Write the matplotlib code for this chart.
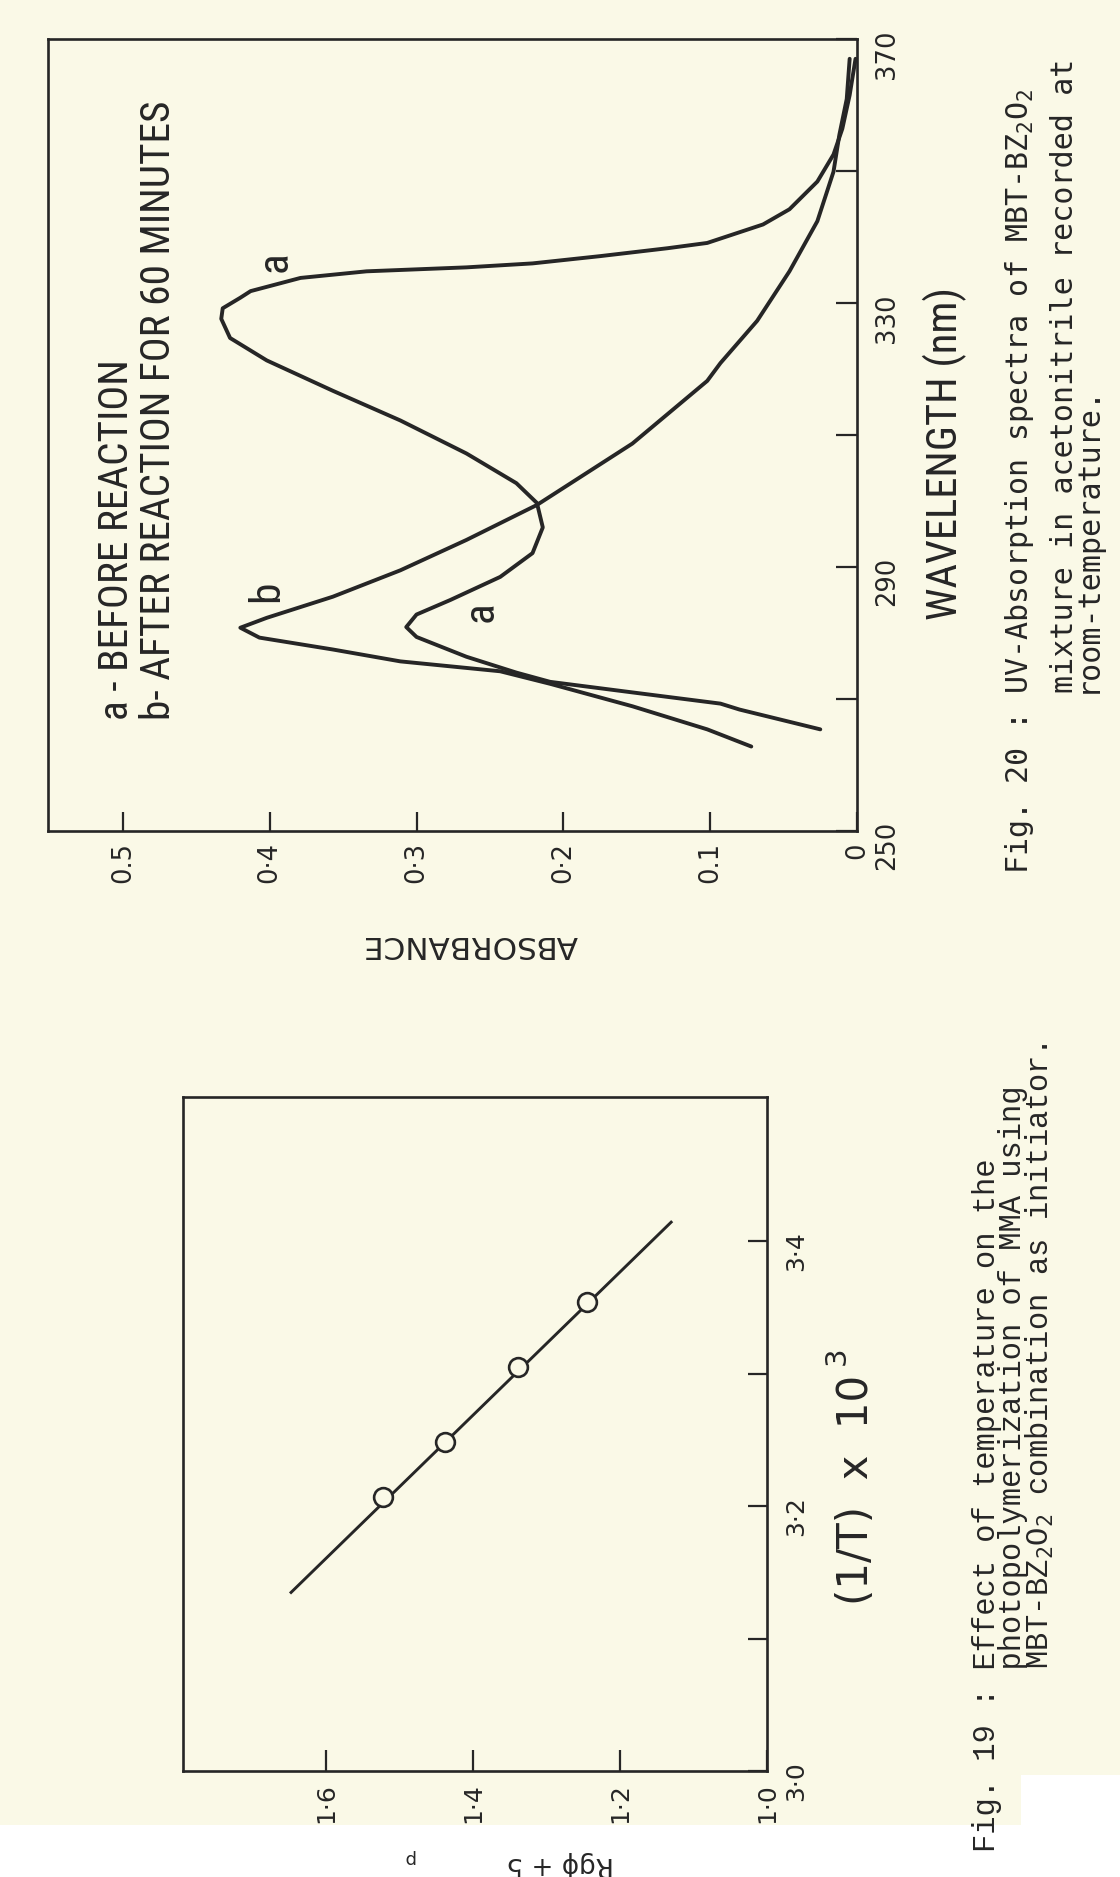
import matplotlib
matplotlib.use("Agg")
import matplotlib.pyplot as plt
from matplotlib.patches import Rectangle
from matplotlib import font_manager

# ---------------------------------------------------------------------------
# Fig. 20 -- UV absorption spectra of the MBT-BZ2O2 mixture
# ---------------------------------------------------------------------------
# curve a : before reaction
wl_a = [265.4, 268.4, 269.3, 271.0, 272.6, 274.0, 276.4, 279.4, 280.9, 282.8,
        285.0, 288.5, 292.1, 296.0, 299.7, 302.7, 307.2, 312.2, 316.7, 321.3,
        324.7, 327.6, 329.2, 330.8, 331.8, 333.8, 334.8, 335.4, 336.0, 337.1,
        338.3, 339.1, 341.9, 344.2, 348.4, 352.5, 356.4, 361.5, 367.0]
abs_a = [0.025, 0.080, 0.093, 0.153, 0.209, 0.232, 0.266, 0.300, 0.307, 0.300,
         0.277, 0.243, 0.221, 0.214, 0.218, 0.232, 0.266, 0.311, 0.357, 0.402,
         0.427, 0.433, 0.432, 0.420, 0.413, 0.379, 0.334, 0.266, 0.221, 0.175,
         0.129, 0.102, 0.064, 0.046, 0.027, 0.016, 0.010, 0.005, 0.001]

# curve b : after reaction for 60 minutes
wl_b = [262.8, 265.4, 268.9, 272.3, 274.2, 275.7, 277.5, 279.3, 280.8, 282.3,
        285.5, 289.5, 294.1, 299.4, 308.7, 318.2, 320.9, 327.3, 334.8, 342.4,
        349.9, 355.5, 360.9, 367.0]
abs_b = [0.072, 0.102, 0.153, 0.209, 0.243, 0.311, 0.357, 0.407, 0.420, 0.402,
         0.357, 0.311, 0.266, 0.218, 0.153, 0.102, 0.093, 0.068, 0.046, 0.027,
         0.016, 0.012, 0.007, 0.005]

abs_ticks = [0.0, 0.1, 0.2, 0.3, 0.4, 0.5]
abs_ticklabels = ["0", "0.1", "0·2", "0·3", "0·4", "0.5"]
wl_ticks = [250, 270, 290, 310, 330, 350, 370]
wl_ticklabels = ["250", "", "290", "", "330", "", "370"]

# ---------------------------------------------------------------------------
# Fig. 19 -- effect of temperature on the photopolymerization of MMA
# ---------------------------------------------------------------------------
log_rp = [1.522, 1.438, 1.339, 1.245]          # log Rp + 5
inv_t = [3.207, 3.248, 3.305, 3.354]           # (1/T) x 10^3
fit_log_rp = [1.649, 1.129]
fit_inv_t = [3.134, 3.415]

lrp_ticks = [1.0, 1.2, 1.4, 1.6]
lrp_ticklabels = ["1·0", "1·2", "1·4", "1·6"]
invt_ticks = [3.0, 3.1, 3.2, 3.3, 3.4]
invt_ticklabels = ["3·0", "", "3·2", "", "3·4"]

# ---------------------------------------------------------------------------
W, H, DPI = 1120, 1877, 100
PAPER = "#FAF9E7"
INK = "#262626"

fonts = font_manager.fontManager.ttflist


def has(name, stretch=None):
    return any(f.name == name and (stretch is None or f.stretch == stretch) for f in fonts)


# narrow lettering for the stencilled labels
if has("Liberation Sans Narrow"):
    LETTER = dict(family="Liberation Sans Narrow")
elif has("Roboto Condensed"):
    LETTER = dict(family="Roboto Condensed")
elif has("DejaVu Sans", "condensed"):
    LETTER = dict(family="DejaVu Sans", fontstretch="condensed")
elif has("Open Sans Condensed"):
    LETTER = dict(family="Open Sans Condensed")
else:
    LETTER = dict(family="DejaVu Sans")

SANS = dict(family="DejaVu Sans")
MONO_A = "DejaVu Sans Mono" if has("DejaVu Sans Mono") else "Liberation Mono"
MONO_B = "Liberation Mono" if has("Liberation Mono") else "DejaVu Sans Mono"
TYPE_A = dict(family=MONO_A, math_fontfamily="custom")
TYPE_B = dict(family=MONO_B, math_fontfamily="custom")

# subscripts in the captions are typed in the same monospaced face
plt.rcParams["mathtext.fontset"] = "custom"
plt.rcParams["mathtext.rm"] = MONO_A
plt.rcParams["mathtext.it"] = MONO_A
plt.rcParams["mathtext.bf"] = MONO_A

fig = plt.figure(figsize=(W / DPI, H / DPI), dpi=DPI, facecolor="white")
renderer = fig.canvas.get_renderer()

# paper sheet
fig.patches.append(Rectangle((0, 1 - 1825 / H), 1, 1825 / H, transform=fig.transFigure,
                             facecolor=PAPER, edgecolor="none", zorder=-10))
fig.patches.append(Rectangle((1021 / W, 0), 1 - 1021 / W, (H - 1775) / H,
                             transform=fig.transFigure, facecolor="white",
                             edgecolor="none", zorder=-9))


def frac_box(left, top, right, bottom):
    return [left / W, 1 - bottom / H, (right - left) / W, (bottom - top) / H]


def put(x, y, s, rot=90, ha="center", va="center", span=None, size=16, font=SANS, **kw):
    t = fig.text(x / W, 1 - y / H, s, rotation=rot, rotation_mode="anchor",
                 ha=ha, va=va, fontsize=size, color=INK, **font, **kw)
    if span:
        bb = t.get_window_extent(renderer)
        cur = bb.height if rot % 180 == 90 else bb.width
        t.set_fontsize(size * span / cur)
    return t


def style_axes(ax):
    ax.set_facecolor("none")
    for sp in ax.spines.values():
        sp.set_linewidth(1.9)
        sp.set_color(INK)


# ---------------- upper panel: spectra ----------------
ax1 = fig.add_axes(frac_box(48, 39, 857, 831))
style_axes(ax1)
line_kw = dict(color=INK, lw=2.8, solid_joinstyle="round", solid_capstyle="round")
ax1.plot(abs_a, wl_a, **line_kw)
ax1.plot(abs_b, wl_b, **line_kw)
ax1.set_xlim(0.551, 0.0)
ax1.set_ylim(250, 370)
ax1.set_xticks(abs_ticks)
ax1.set_xticklabels(abs_ticklabels, **SANS)
ax1.yaxis.tick_right()
ax1.set_yticks(wl_ticks)
ax1.set_yticklabels(wl_ticklabels, **SANS)
ax1.tick_params(axis="x", direction="in", length=14, width=1.6, pad=8,
                labelsize=18.5, labelrotation=90, colors=INK)
ax1.tick_params(axis="y", direction="in", length=15, width=1.6, pad=12,
                labelsize=18.5, labelrotation=90, colors=INK)

leg2 = put(158, 720, "b- AFTER REACTION FOR 60 MINUTES", ha="left", span=620, size=24,
           font=LETTER)
leg_size = leg2.get_fontsize()
put(116, 720, "a - BEFORE REACTION", ha="left", size=leg_size, font=LETTER)
put(275, 262, "a", size=leg_size * 1.05, font=LETTER)
put(267, 591, "b", size=leg_size * 1.05, font=LETTER)
put(481, 612, "a", size=leg_size * 1.05, font=LETTER)

put(945, 453, "WAVELENGTH (nm)", span=333, size=24, font=LETTER)
put(470, 945, "ABSORBANCE", rot=180, span=215, size=20, font=SANS)

# caption of Fig. 20 (hanging indent under "UV-Absorption")
put(1019, 874, r"Fig. 20 : UV-Absorption spectra of MBT-BZ$_2$O$_2$", ha="left",
    size=21.6, font=TYPE_A)
put(1076, 693, "mixture in acetonitrile recorded at\nroom-temperature.", ha="left",
    size=21.6, font=TYPE_A, linespacing=0.72, multialignment="left")

# ---------------- lower panel: rate vs 1/T ----------------
ax2 = fig.add_axes(frac_box(183, 1097, 767, 1771))
style_axes(ax2)
ax2.plot(fit_log_rp, fit_inv_t, color=INK, lw=2.1, solid_capstyle="butt")
ax2.plot(log_rp, inv_t, ls="none", marker="o", ms=13.5, mfc=PAPER, mec=INK, mew=1.9)
ax2.set_xlim(1.7946, 1.0)
ax2.set_ylim(3.0, 3.5087)
ax2.set_xticks(lrp_ticks)
ax2.set_xticklabels(lrp_ticklabels, **SANS)
ax2.yaxis.tick_right()
ax2.set_yticks(invt_ticks)
ax2.set_yticklabels(invt_ticklabels, **SANS)
ax2.tick_params(axis="x", direction="in", length=15, width=1.6, pad=9,
                labelsize=18, labelrotation=90, colors=INK)
ax2.tick_params(axis="y", direction="in", length=14, width=1.6, pad=12,
                labelsize=18, labelrotation=90, colors=INK)

put(856, 1490, "(1/T)  x  10", span=230, size=22, font=SANS)
put(837, 1356, "3", size=21, font=SANS)

# caption of Fig. 19
put(1014, 1852,
    "Fig. 19 : Effect of temperature on the\n"
    "          photopolymerization of MMA using\n"
    r"          MBT-BZ$_2$O$_2$ combination as initiator.",
    ha="left", size=22, font=TYPE_B, linespacing=0.82, multialignment="left")

put(560, 1864, "Rgϕ + 5", rot=180, span=108, size=20, font=SANS)
put(409, 1858, "p", rot=180, size=13, font=SANS)

fig.savefig("out.png", dpi=DPI, facecolor=fig.get_facecolor())
